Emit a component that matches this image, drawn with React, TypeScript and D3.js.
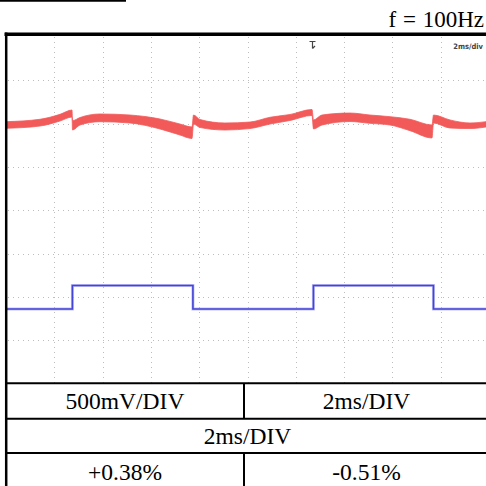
import React from "react";
import * as d3 from "d3";

// Time (ms) and voltage (V) samples of the red trace band (upper / lower edge)
const redTime = [0, 1.408, 2.236, 2.733, 2.754, 3.064, 3.892, 5.135, 6.377, 7.205, 7.702, 7.764, 8.033, 9.068, 10.104, 10.932, 11.76, 12.671, 12.733, 13.085, 14.244, 15.072, 15.901, 16.729, 17.64, 17.702, 18.385, 19.213, 19.876];
const redUpper = [1.022, 1.05, 1.107, 1.157, 1.034, 1.07, 1.111, 1.099, 1.053, 0.995, 0.961, 1.099, 1.047, 1.007, 1.018, 1.073, 1.105, 1.163, 1.042, 1.099, 1.122, 1.099, 1.08, 1.05, 0.984, 1.099, 1.042, 1.007, 1.022];
const redLower = [0.946, 0.972, 1.03, 1.076, 0.926, 0.984, 1.022, 1.007, 0.938, 0.868, 0.828, 0.995, 0.955, 0.926, 0.943, 0.995, 1.036, 1.094, 0.938, 0.984, 1.024, 1.003, 0.984, 0.918, 0.834, 1.007, 0.949, 0.943, 0.961];

// Blue square wave
const blueTime = [0, 2.75, 2.75, 7.74, 7.74, 12.73, 12.73, 17.7, 17.7, 20];
const blueVolt = [-1.141, -1.141, -0.87, -0.87, -1.141, -1.141, -0.87, -0.87, -1.141, -1.141];

const xTicks = [0, 2, 4, 6, 8, 10, 12, 14, 16, 18, 20];
const yTicks = [-2, -1.5, -1, -0.5, 0, 0.5, 1, 1.5, 2];

const freqLabel = "f = 100Hz";
const scopeLabel = "2ms/div";
const row1 = ["500mV/DIV", "2ms/DIV"];
const row2 = "2ms/DIV";
const row3 = ["+0.38%", "-0.51%"];

export default function App() {
  const W = 486, H = 486;
  const x = d3.scaleLinear().domain([0, 20]).range([6, 489]);
  const y = d3.scaleLinear().domain([-2, 2]).range([383.4, 37]);

  const redData = redTime.map((t, i) => ({ t, u: redUpper[i], l: redLower[i] }));
  const area = d3
    .area<{ t: number; u: number; l: number }>()
    .x((d) => x(d.t))
    .y0((d) => y(d.l))
    .y1((d) => y(d.u))
    .curve(d3.curveMonotoneX);

  const blueData = blueTime.map((t, i) => [t, blueVolt[i]] as [number, number]);
  const line = d3.line<[number, number]>().x((d) => x(d[0])).y((d) => y(d[1]));

  const font = "'Liberation Serif', 'Times New Roman', serif";
  const tableTop = 383.3, r2 = 418.7, r3 = 453, divX = 244;
  const leftC = (6 + divX) / 2, rightC = (divX + 489) / 2, midC = (6 + 489) / 2;

  return (
    <svg width={W} height={H} style={{ position: "absolute", left: 0, top: 0, background: "#fff" }}>
      <rect x={0} y={0} width={W} height={H} fill="#fff" />
      {/* top-left fragment line */}
      <line x1={0} x2={126} y1={0.8} y2={0.8} stroke="#000" strokeWidth={2} />
      <text x={484} y={27} textAnchor="end" fontFamily={font} fontSize={23} wordSpacing={1} fill="#000">
        {freqLabel}
      </text>

      {/* grid */}
      <g stroke="#bdbdbd" strokeWidth={1} strokeDasharray="1,4">
        {xTicks.slice(1, -1).map((t) => (
          <line key={"vx" + t} x1={Math.round(x(t)) + 0.5} x2={Math.round(x(t)) + 0.5} y1={37} y2={tableTop} />
        ))}
        {yTicks.slice(1, -1).map((v) => (
          <line key={"hy" + v} y1={Math.round(y(v)) + 0.5} y2={Math.round(y(v)) + 0.5} x1={8} x2={W} />
        ))}
      </g>

      {/* scope annotations */}
      <text x={483} y={48.5} textAnchor="end" fontFamily="'DejaVu Sans Condensed', 'DejaVu Sans', sans-serif" fontSize={7.5} fontWeight="bold" fill="#444">
        {scopeLabel}
      </text>
      <g stroke="#444" strokeWidth={1.2} fill="none">
        <path d="M309.5,41.5 H315.5 M312.5,41.5 V48.5 M312.5,48.5 L315,46" />
      </g>

      {/* traces */}
      <path d={area(redData) ?? ""} fill="#f25a5a" stroke="#f25a5a" strokeWidth={0.8} />
      <path d={line(blueData) ?? ""} fill="none" stroke="#9a9af0" strokeWidth={3} opacity={0.6} />
      <path d={line(blueData) ?? ""} fill="none" stroke="#4444d8" strokeWidth={1.6} />

      {/* frame */}
      <line x1={4.5} x2={W} y1={34.2} y2={34.2} stroke="#000" strokeWidth={3.5} />
      <line x1={6.2} x2={6.2} y1={32.5} y2={H} stroke="#000" strokeWidth={2.5} />

      {/* table */}
      <g stroke="#000" strokeWidth={2}>
        <line x1={6} x2={W} y1={tableTop} y2={tableTop} />
        <line x1={6} x2={W} y1={r2} y2={r2} />
        <line x1={6} x2={W} y1={r3} y2={r3} />
        <line x1={divX} x2={divX} y1={tableTop} y2={r2} />
        <line x1={divX} x2={divX} y1={r3} y2={H} />
      </g>
      <g fontFamily={font} fontSize={23.5} fill="#000" textAnchor="middle">
        <text x={leftC} y={409.3}>{row1[0]}</text>
        <text x={rightC} y={409.3}>{row1[1]}</text>
        <text x={midC} y={444}>{row2}</text>
        <text x={leftC} y={480}>{row3[0]}</text>
        <text x={rightC} y={480}>{row3[1]}</text>
      </g>
    </svg>
  );
}
